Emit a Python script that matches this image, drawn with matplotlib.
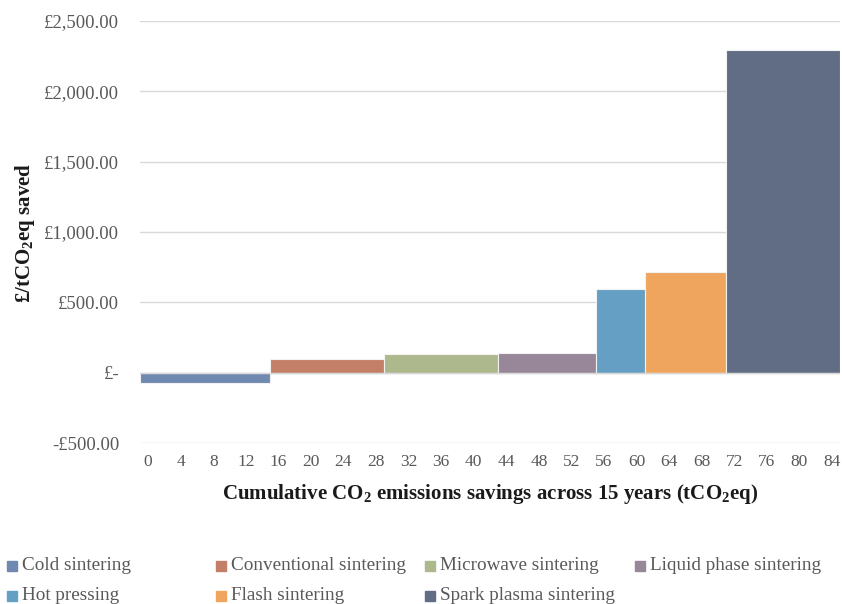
import matplotlib
matplotlib.use("Agg")
import matplotlib.pyplot as plt
from matplotlib.patches import Rectangle
import numpy as np

plt.rcParams['font.family'] = ['Liberation Serif', 'DejaVu Serif']
plt.rcParams['mathtext.fontset'] = 'custom'
plt.rcParams['mathtext.rm'] = 'Liberation Serif'
plt.rcParams['mathtext.bf'] = 'Liberation Serif:bold'

# ---- data ----
technologies = ["Cold sintering", "Conventional sintering", "Microwave sintering",
                "Liquid phase sintering", "Hot pressing", "Flash sintering",
                "Spark plasma sintering"]
savings = [16, 14, 14, 12, 6, 10, 14]          # tCO2eq (bar widths)
cost_per_t = [-70, 95, 135, 140, 596, 714, 2291]  # £/tCO2eq saved
colors = ["#7089b0", "#c47f68", "#adb98c", "#978799", "#659fc4", "#f0a55f", "#616d85"]
x_tick_values = list(range(0, 85, 4))
y_tick_values = [-500, 0, 500, 1000, 1500, 2000, 2500]

def gbp(v):
    if v == 0:
        return "£-"
    s = "£{:,.2f}".format(abs(v))
    return "-" + s if v < 0 else s

fig = plt.figure(figsize=(8.42, 6.04), dpi=100)
ax = fig.add_axes([140/842, 1-443/604, 700/842, 422/604])

lefts = np.concatenate([[0], np.cumsum(savings)[:-1]]) - 1
ax.bar(lefts, cost_per_t, width=savings, align='edge', color=colors,
       edgecolor='#f2f2f2', linewidth=0.8, zorder=3)

ax.set_xlim(-1, 85)
ax.set_ylim(-500, 2500)
ax.set_yticks(y_tick_values)
ax.set_yticklabels([gbp(v) for v in y_tick_values])
ax.set_xticks(x_tick_values)
ax.set_xticklabels([str(v) for v in x_tick_values])
ax.grid(axis='y', color='#d9d9d9', linewidth=1.0, zorder=0)
ax.axhline(0, color='#d9d9d9', linewidth=1.0, zorder=4)
for s in ax.spines.values():
    s.set_visible(False)
ax.tick_params(axis='both', length=0, labelcolor='#595959')
ax.tick_params(axis='y', labelsize=13.5, pad=15)
ax.tick_params(axis='x', labelsize=12.5, pad=8)

fig.text(490/842, 1-494/604,
         r"Cumulative CO$_\mathbf{2}$ emissions savings across 15 years (tCO$_\mathbf{2}$eq)",
         ha='center', va='center', fontsize=15, fontweight='bold', color='#1a1a1a')
fig.text(25/842, 1-233/604, r"£/tCO$_\mathbf{2}$eq saved", rotation=90,
         ha='center', va='center', fontsize=15, fontweight='bold', color='#1a1a1a')

# legend (manual layout)
col_x = [7, 216, 425, 635]
row_y = [566, 596]
for i, (name, c) in enumerate(zip(technologies, colors)):
    r, k = divmod(i, 4)
    x0 = col_x[k]
    y0 = row_y[r]
    fig.add_artist(Rectangle((x0/842, 1-(y0+5)/604), 10/842, 10/604,
                             transform=fig.transFigure, color=c))
    fig.text((x0+15)/842, 1-y0/604, name, ha='left', va='center',
             fontsize=13.8, color='#595959')

fig.savefig("out.png", dpi=100)
